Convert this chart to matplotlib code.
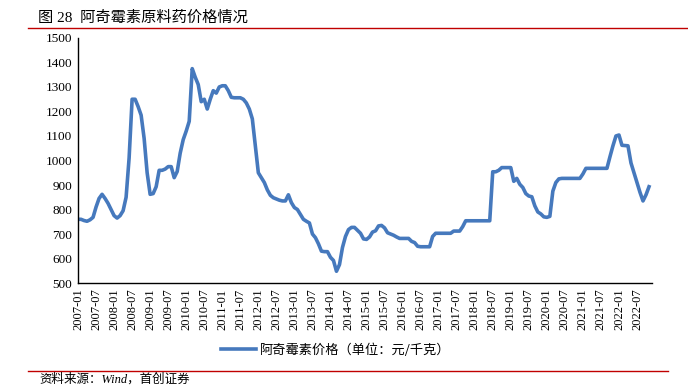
import matplotlib
matplotlib.use("Agg")
import matplotlib.pyplot as plt
from matplotlib.lines import Line2D

plt.rcParams['font.family'] = ['Liberation Serif', 'Noto Sans CJK SC', 'DejaVu Sans']

title = "图 28  阿奇霉素原料药价格情况"
series_name = "阿奇霉素价格（单位：元/千克）"
source = "资料来源：Wind，首创证券"

# monthly prices, 2007-01 .. 2022-11
prices = [
    760, 760, 755, 752, 758, 768, 810, 845, 862, 845, 825, 800,   # 2007
    775, 765, 775, 795, 850, 1010, 1250, 1250, 1220, 1185, 1090, 950,  # 2008
    862, 865, 893, 960, 960, 965, 975, 975, 930, 955, 1030, 1085,  # 2009
    1120, 1160, 1375, 1340, 1310, 1240, 1250, 1210, 1250, 1285, 1275, 1300,  # 2010
    1305, 1305, 1285, 1258, 1256, 1256, 1256, 1250, 1235, 1210, 1170, 1060,  # 2011
    950, 930, 910, 880, 858, 848, 843, 838, 835, 835, 860, 828,  # 2012
    808, 800, 780, 760, 752, 745, 700, 685, 660, 630, 628, 628,  # 2013
    605, 592, 548, 575, 645, 690, 718, 727, 727, 715, 703, 680,  # 2014
    678, 688, 708, 713, 733, 735, 725, 705, 700, 695, 688, 682,  # 2015
    682, 682, 682, 670, 665, 650, 648, 648, 648, 648, 690, 703,  # 2016
    703, 703, 703, 703, 703, 712, 712, 712, 730, 754, 754, 754,  # 2017
    754, 754, 754, 754, 754, 754, 954, 954, 960, 971, 971, 971,  # 2018
    971, 915, 927, 903, 890, 865, 855, 852, 815, 790, 782, 770,  # 2019
    768, 772, 875, 910, 925, 927, 927, 927, 927, 927, 927, 927,  # 2020
    945, 968, 968, 968, 968, 968, 968, 968, 968, 1015, 1060, 1100,  # 2021
    1104, 1062, 1061, 1060, 990, 950, 910, 870, 835, 860, 893,  # 2022
]
years = list(range(2007, 2023))
tick_labels = [f"{y}-{m}" for y in years for m in ("01", "07")]
y_ticks = list(range(500, 1501, 100))

fig = plt.figure(figsize=(6.88, 3.86), dpi=100)
ax = fig.add_axes([0.1134, 0.2668, 0.8343, 0.6348])

months = list(range(len(prices)))
line_color = "#4679BD"
ax.plot(months, prices, color=line_color, lw=2.6, solid_joinstyle='round')

ax.set_xlim(0, 191)
ax.set_ylim(500, 1500)
ax.set_yticks(y_ticks)
ax.set_yticklabels([str(v) for v in y_ticks], fontsize=9.5)
ax.set_xticks(list(range(0, 6 * len(tick_labels), 6)))
ax.set_xticklabels(tick_labels, rotation=90, fontsize=9)
ax.tick_params(axis='x', length=0, pad=4)
ax.tick_params(axis='y', length=0, pad=4)
for s in ("top", "right"):
    ax.spines[s].set_visible(False)
for s in ("left", "bottom"):
    ax.spines[s].set_color("black")
    ax.spines[s].set_linewidth(1.0)

# title and rules
fig.text(0.055, 0.955, title, fontsize=11, ha='left', va='center',
         family=['Liberation Serif', 'Noto Sans CJK SC'])
fig.add_artist(Line2D([0.041, 1.0], [0.927, 0.927], color="#C00000", lw=1.0))
fig.add_artist(Line2D([0.041, 0.971], [0.038, 0.038], color="#C00000", lw=1.0))

# legend
handle = Line2D([], [], color=line_color, lw=2.6)
fig.legend([handle], [series_name], loc='center', bbox_to_anchor=(0.488, 0.093),
           frameon=False, handlelength=2.6, handletextpad=0.3,
           prop={'family': ['Noto Sans CJK SC'], 'size': 9.5})

fig.text(0.058, 0.0, source, fontsize=9, style='italic', ha='left', va='bottom',
         family=['Liberation Serif', 'Noto Sans CJK SC'])

fig.savefig("out.png", dpi=100)
